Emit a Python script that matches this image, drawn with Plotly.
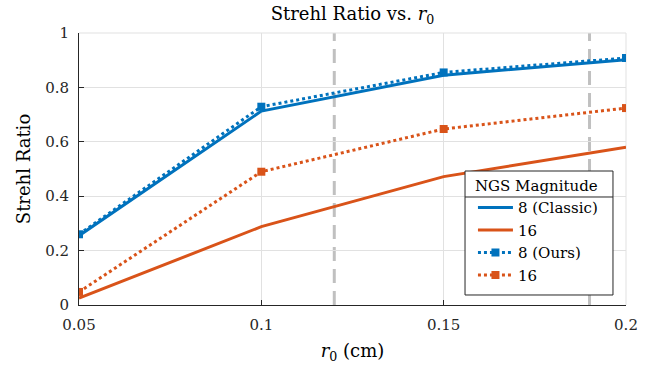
import plotly.graph_objects as go

r0 = [0.05, 0.1, 0.15, 0.2]
classic_8 = [0.255, 0.713, 0.845, 0.902]
classic_16 = [0.025, 0.288, 0.472, 0.58]
ours_8 = [0.26, 0.729, 0.855, 0.908]
ours_16 = [0.048, 0.49, 0.647, 0.724]
vlines = [0.12, 0.19]
xticks = [0.05, 0.1, 0.15, 0.2]
xticktext = ["0.05", "0.1", "0.15", "0.2"]
yticks = [0, 0.2, 0.4, 0.6, 0.8, 1]
yticktext = ["0", "0.2", "0.4", "0.6", "0.8", "1"]

BLUE = "#0072BD"
ORANGE = "#D95319"
FONT = "DejaVu Serif"
DARK = "#262626"
GRID = "#E1E1E1"


def f(size, color=DARK):
    return dict(family=FONT, size=size, color=color)


fig = go.Figure()
fig.add_trace(go.Scatter(x=r0, y=classic_8, mode="lines", name="8 (Classic)",
                         line=dict(color=BLUE, width=3)))
fig.add_trace(go.Scatter(x=r0, y=classic_16, mode="lines", name="16",
                         line=dict(color=ORANGE, width=3)))
fig.add_trace(go.Scatter(x=r0, y=ours_8, mode="lines+markers", name="8 (Ours)",
                         line=dict(color=BLUE, width=3, dash="dot"),
                         marker=dict(symbol="square", size=8, color=BLUE)))
fig.add_trace(go.Scatter(x=r0, y=ours_16, mode="lines+markers", name="16",
                         line=dict(color=ORANGE, width=3, dash="dot"),
                         marker=dict(symbol="square", size=8, color=ORANGE)))

for v in vlines:
    fig.add_shape(type="line", x0=v, x1=v, y0=0, y1=1, xref="x", yref="paper",
                  line=dict(color="#C0C0C0", width=3, dash="14px,8px"), layer="below")

# light top / right frame
fig.add_shape(type="line", xref="paper", yref="paper", x0=1, x1=1, y0=0, y1=1,
              line=dict(color=GRID, width=1), layer="below")
fig.add_shape(type="line", xref="paper", yref="paper", x0=0, x1=1, y0=1, y1=1,
              line=dict(color=GRID, width=1), layer="below")

# legend box with title separator
LX0, LX1, LY0, LY1, LSEP = 0.7057, 0.9762, 0.0368, 0.4926, 0.3971
fig.add_shape(type="rect", xref="paper", yref="paper", x0=LX0, x1=LX1, y0=LY0, y1=LY1,
              fillcolor="white", line=dict(color=DARK, width=1), layer="above")
fig.add_shape(type="line", xref="paper", yref="paper", x0=LX0, x1=LX1, y0=LSEP, y1=LSEP,
              line=dict(color=DARK, width=1), layer="above")

fig.update_layout(
    width=664, height=369,
    margin=dict(l=79, r=38, t=33, b=64),
    plot_bgcolor="white", paper_bgcolor="white",
    font=f(15),
    title=dict(text="Strehl Ratio vs. <i>r</i><sub>0</sub>", x=0.5, xref="paper",
               xanchor="center", y=1 - 14 / 369, yanchor="middle",
               font=f(18, "black")),
    showlegend=True,
    legend=dict(x=LX0 + 0.0145, y=LY1 - 0.003, xanchor="left", yanchor="top",
                bgcolor="rgba(0,0,0,0)", borderwidth=0, itemwidth=35,
                title=dict(text="NGS Magnitude", side="top",
                           font=f(15, "black")),
                font=f(15, "black"), tracegroupgap=0),
    xaxis=dict(range=[0.05, 0.2], tickvals=xticks, ticktext=xticktext,
               showgrid=True, gridcolor=GRID, gridwidth=1,
               showline=True, linecolor=DARK, linewidth=1,
               ticks="inside", ticklen=5, tickcolor=DARK,
               ticklabelstandoff=6, tickfont=f(15),
               zeroline=False, automargin=False,
               title=dict(text="<i>r</i><sub>0</sub> (cm)", standoff=11,
                          font=f(18, "black"))),
    yaxis=dict(range=[0, 1], tickvals=yticks, ticktext=yticktext,
               showgrid=True, gridcolor=GRID, gridwidth=1,
               showline=True, linecolor=DARK, linewidth=1,
               ticks="inside", ticklen=5, tickcolor=DARK,
               ticklabelstandoff=6, tickfont=f(15),
               zeroline=False, automargin=False,
               title=dict(text="Strehl Ratio", standoff=9,
                          font=f(18, "black"))),
)

fig.write_html("out.html", config={"displayModeBar": False},
               post_script="document.body.style.margin='0';")
